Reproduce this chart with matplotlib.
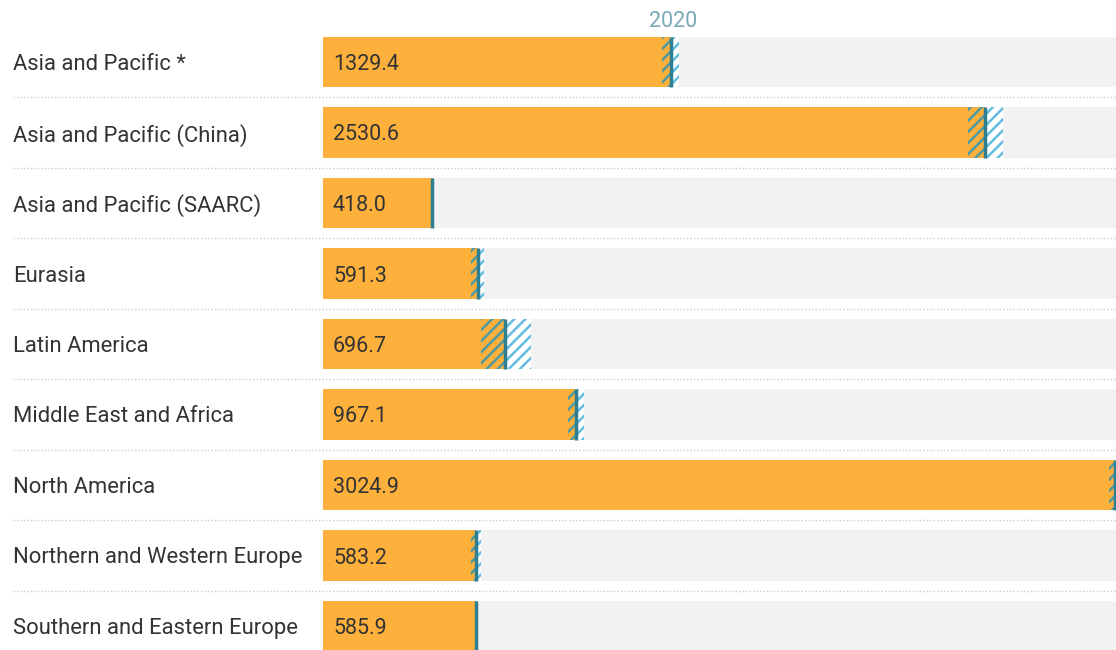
import matplotlib.pyplot as plt
import matplotlib.transforms as mtransforms

plt.rcParams["font.family"] = ["Roboto", "DejaVu Sans"]
plt.rcParams["hatch.linewidth"] = 1.8

# data, 2020 values with lower / upper bound of the range
regions = [
    "Asia and Pacific *",
    "Asia and Pacific (China)",
    "Asia and Pacific (SAARC)",
    "Eurasia",
    "Latin America",
    "Middle East and Africa",
    "North America",
    "Northern and Western Europe",
    "Southern and Eastern Europe",
]
values = [1329.4, 2530.6, 418.0, 591.3, 696.7, 967.1, 3024.9, 583.2, 585.9]
lower = [1296, 2466, 415, 564, 602, 937, 3005, 564, 582]
upper = [1360, 2599, 421, 617, 796, 998, 3045, 602, 590]
year = "2020"

ORANGE = "#fdb03b"
BG = "#f2f2f2"
LINE = "#2f7f93"
HATCH_LO = "#4f9aa0"
HATCH_HI = "#62bde0"

W, H = 1116, 650
fig = plt.figure(figsize=(W / 100, H / 100), dpi=100)
row_px = 70.5
top_px = 62 - row_px / 2
n = len(regions)
ax_h = n * row_px
ax = fig.add_axes([323 / W, 1 - (top_px + ax_h) / H, (W - 323) / W, ax_h / H])

xmax = 3030
ys = list(range(n))
bh = 0.71

ax.barh(ys, [xmax] * n, height=bh, color=BG, linewidth=0)
ax.barh(ys, values, height=bh, color=ORANGE, linewidth=0)
for y, v, lo, hi in zip(ys, values, lower, upper):
    ax.barh(y, v - lo, left=lo, height=bh, color="none", hatch="///",
            edgecolor=HATCH_LO, linewidth=0)
    ax.barh(y, hi - v, left=v, height=bh, color="white", hatch="///",
            edgecolor=HATCH_HI, linewidth=0)
    ax.plot([v, v], [y - bh / 2, y + bh / 2], color=LINE, lw=2.5,
            solid_capstyle="butt")
    ax.text(38, y, f"{v:.1f}", va="center_baseline", ha="left",
            fontsize=15.5, color="#333333")

trans = mtransforms.blended_transform_factory(ax.transAxes, ax.transData)
x0 = (13 - 323) / (W - 323)
for y, name in zip(ys, regions):
    ax.text(x0, y, name, transform=trans, va="center_baseline", ha="left",
            fontsize=15.8, color="#333333", clip_on=False)
for y in ys[:-1]:
    ax.plot([x0, 1], [y + 0.5, y + 0.5], transform=trans,
            color="#c9ccd3", lw=1, ls=(0, (1, 1.5)), clip_on=False)

ax.set_xlim(0, xmax)
ax.set_ylim(n - 0.5, -0.5)
ax.axis("off")

fig.text(673 / W, 1 - 19 / H, year, ha="center", va="center_baseline",
         fontsize=15.5, color="#78a9b8")

fig.savefig("out.png", dpi=100)
